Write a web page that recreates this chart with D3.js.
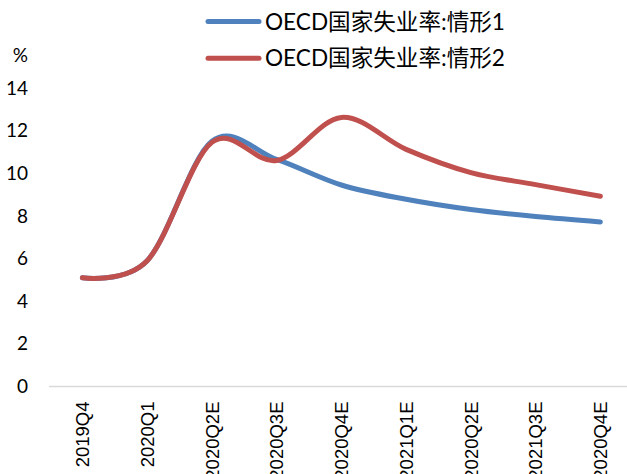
<!DOCTYPE html>
<html>
<head>
<meta charset="utf-8">
<script src="https://cdn.jsdelivr.net/npm/d3@7"></script>
<style>
  html, body { margin: 0; padding: 0; background: #fff; }
  svg { display: block; }
</style>
</head>
<body>
<svg id="chart" width="627" height="474"></svg>
<script>
const categories = ["2019Q4", "2020Q1", "2020Q2E", "2020Q3E", "2020Q4E", "2021Q1E", "2020Q2E", "2021Q3E", "2020Q4E"];
const scenario1 = [5.1, 5.9, 11.5, 10.65, 9.45, 8.78, 8.3, 7.97, 7.72];
const scenario2 = [5.1, 5.9, 11.45, 10.6, 12.62, 11.12, 10.03, 9.47, 8.92];
const seriesNames = ["OECD国家失业率:情形1", "OECD国家失业率:情形2"];
const seriesColors = ["#4F81BD", "#C0504D"];
const yTicks = [0, 2, 4, 6, 8, 10, 12, 14];
const yUnit = "%";

const svg = d3.select("#chart");
const W = 627, H = 474;
svg.append("rect").attr("width", W).attr("height", H).attr("fill", "#fff");

const x = d3.scaleBand().domain(d3.range(categories.length)).range([50, 50 + 9 * 64.75]).padding(0);
const y = d3.scaleLinear().domain([0, 14]).range([386.5, 88]);
const cx = i => x(i) + x.bandwidth() / 2;

// x axis line
svg.append("line")
  .attr("x1", 49).attr("x2", W)
  .attr("y1", y(0)).attr("y2", y(0))
  .attr("stroke", "#d9d9d9").attr("stroke-width", 1.5);

// y tick labels
const yAxis = d3.axisLeft(y).tickValues(yTicks).tickSize(0).tickPadding(0).tickFormat(d3.format("d"));
const yg = svg.append("g").attr("transform", "translate(28,0)").call(yAxis);
yg.select(".domain").remove();
yg.selectAll("text")
  .attr("font-family", "Lato, 'Liberation Sans', sans-serif")
  .attr("font-size", "19px")
  .attr("fill", "#000");

svg.append("text")
  .attr("x", 28).attr("y", 55).attr("dy", "0.35em")
  .attr("text-anchor", "end")
  .attr("font-family", "Lato, 'Liberation Sans', sans-serif")
  .attr("font-size", "19px")
  .text(yUnit);

// x labels (rotated)
const xAxis = d3.axisBottom(x).tickSize(0).tickPadding(0).tickFormat(i => categories[i]);
const xg = svg.append("g").attr("transform", `translate(0,${y(0)})`).call(xAxis);
xg.select(".domain").remove();
xg.selectAll("text")
  .attr("font-family", "'Liberation Sans', Arial, sans-serif")
  .attr("font-size", "18.5px")
  .attr("fill", "#000")
  .attr("text-anchor", "end")
  .attr("transform", "translate(0,15) rotate(-90)")
  .attr("x", 0).attr("y", 0).attr("dy", "0.36em");

// lines
const line = d3.line()
  .x((d, i) => cx(i))
  .y(d => y(d))
  .curve(d3.curveCardinal.tension(0));

[scenario1, scenario2].forEach((s, k) => {
  svg.append("path")
    .datum(s)
    .attr("d", line)
    .attr("fill", "none")
    .attr("stroke", seriesColors[k])
    .attr("stroke-width", 5)
    .attr("stroke-linecap", "round")
    .attr("stroke-linejoin", "round");
});

// legend
seriesNames.forEach((name, k) => {
  const ly = 21.5 + k * 36.8;
  svg.append("line")
    .attr("x1", 208).attr("x2", 259)
    .attr("y1", ly).attr("y2", ly)
    .attr("stroke", seriesColors[k])
    .attr("stroke-width", 5)
    .attr("stroke-linecap", "round");
  svg.append("text")
    .attr("x", 265).attr("y", ly).attr("dy", "0.36em")
    .attr("font-family", "Lato, 'Noto Sans CJK SC', sans-serif")
    .attr("font-size", "22.6px")
    .attr("fill", "#000")
    .text(name);
});
</script>
</body>
</html>
